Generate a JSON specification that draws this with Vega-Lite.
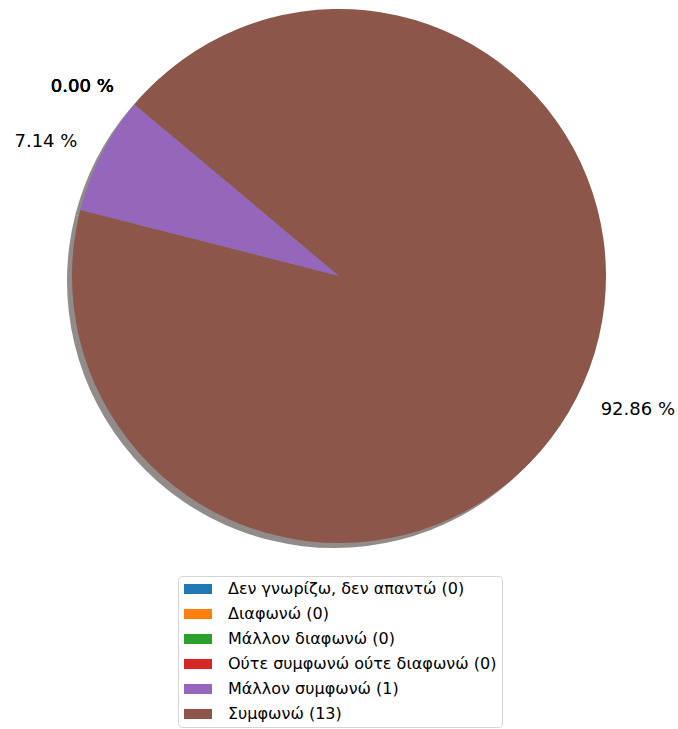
{
  "$schema": "https://vega.github.io/schema/vega-lite/v6.json",
  "width": 678,
  "height": 552,
  "padding": 0,
  "autosize": {"type": "pad"},
  "background": "white",
  "data": {
    "values": [
      {"label": "Δεν γνωρίζω, δεν απαντώ (0)", "count": 0, "pct": "0.00 %"},
      {"label": "Διαφωνώ (0)", "count": 0, "pct": "0.00 %"},
      {"label": "Μάλλον διαφωνώ (0)", "count": 0, "pct": "0.00 %"},
      {"label": "Ούτε συμφωνώ ούτε διαφωνώ (0)", "count": 0, "pct": "0.00 %"},
      {"label": "Μάλλον συμφωνώ (1)", "count": 1, "pct": "7.14 %"},
      {"label": "Συμφωνώ (13)", "count": 13, "pct": "92.86 %"}
    ]
  },
  "encoding": {
    "theta": {"field": "count", "type": "quantitative", "stack": true, "scale": {"range": [-0.8727, 5.4105]}},
    "order": {"field": "count", "type": "quantitative", "sort": "descending"}
  },
  "layer": [
    {
      "mark": {"type": "arc", "radius": 267, "xOffset": -5, "yOffset": 5, "color": "#918b8a"}
    },
    {
      "mark": {"type": "arc", "radius": 267},
      "encoding": {
        "color": {
          "field": "label",
          "type": "nominal",
          "scale": {
            "domain": ["Δεν γνωρίζω, δεν απαντώ (0)", "Διαφωνώ (0)", "Μάλλον διαφωνώ (0)", "Ούτε συμφωνώ ούτε διαφωνώ (0)", "Μάλλον συμφωνώ (1)", "Συμφωνώ (13)"],
            "range": ["#1f77b4", "#ff7f0e", "#2ca02c", "#d62728", "#9467bd", "#8c564b"]
          },
          "legend": {
            "title": null,
            "orient": "none",
            "legendX": 178,
            "legendY": 576
          }
        }
      }
    },
    {
      "mark": {"type": "text", "radius": 294, "align": "right", "baseline": "middle", "font": "DejaVu Sans", "fontSize": 18, "color": "black"},
      "encoding": {
        "text": {"condition": {"test": "datum.count < 5", "field": "pct"}, "value": ""}
      }
    },
    {
      "mark": {"type": "text", "radius": 294, "align": "left", "baseline": "middle", "font": "DejaVu Sans", "fontSize": 18, "color": "black"},
      "encoding": {
        "text": {"condition": {"test": "datum.count >= 5", "field": "pct"}, "value": ""}
      }
    }
  ],
  "config": {
    "view": {"stroke": null},
    "legend": {
      "symbolType": "M-1,-0.72H3V0.72H-1Z",
      "symbolSize": 196,
      "symbolStrokeWidth": 0,
      "symbolOpacity": 1,
      "labelFont": "DejaVu Sans",
      "labelFontSize": 16,
      "labelColor": "black",
      "labelOffset": 29,
      "labelLimit": 400,
      "rowPadding": 9,
      "strokeColor": "#d5d5d5",
      "fillColor": "white",
      "cornerRadius": 4,
      "padding": 5
    }
  }
}
